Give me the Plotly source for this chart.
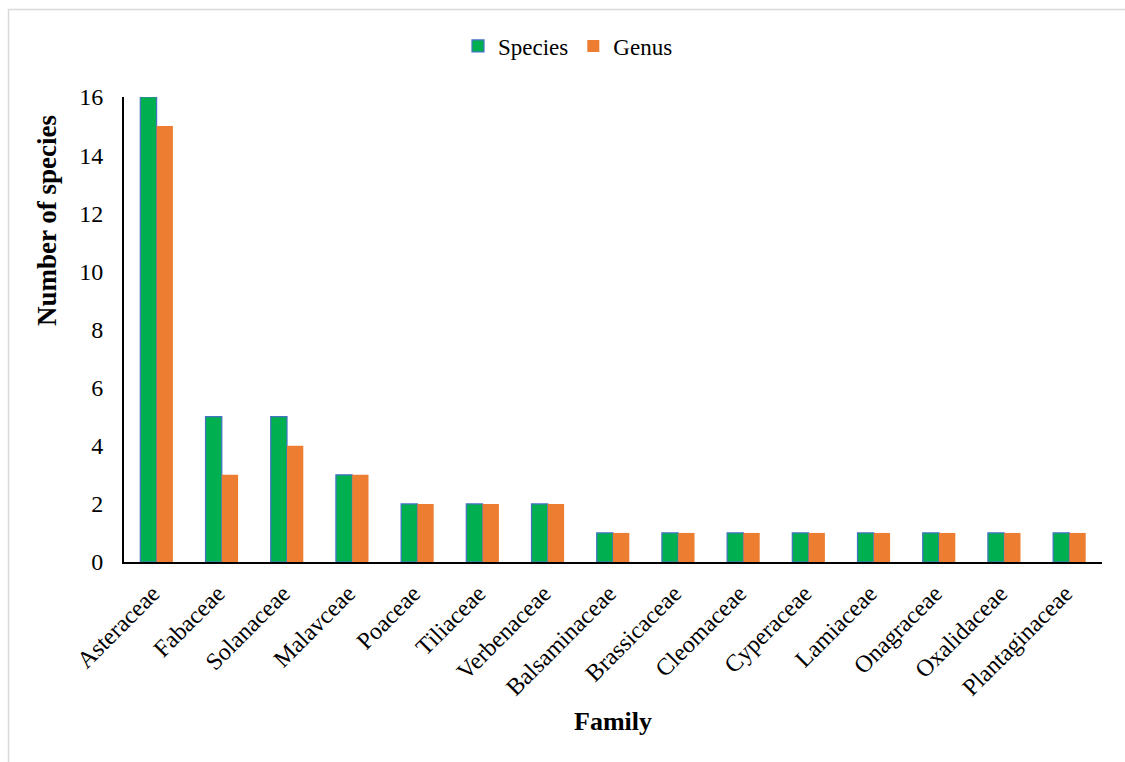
import plotly.graph_objects as go

families = ["Asteraceae", "Fabaceae", "Solanaceae", "Malavceae", "Poaceae", "Tiliaceae",
            "Verbenaceae", "Balsaminaceae", "Brassicaceae", "Cleomaceae", "Cyperaceae",
            "Lamiaceae", "Onagraceae", "Oxalidaceae", "Plantaginaceae"]
species = [16, 5, 5, 3, 2, 2, 2, 1, 1, 1, 1, 1, 1, 1, 1]
genus = [15, 3, 4, 3, 2, 2, 2, 1, 1, 1, 1, 1, 1, 1, 1]

FONT = "Liberation Serif, Times New Roman, serif"

fig = go.Figure()
fig.add_trace(go.Bar(x=families, y=species, name="Species",
                     marker=dict(color="#00B050", line=dict(color="#4472C4", width=1.2))))
fig.add_trace(go.Bar(x=families, y=genus, name="Genus",
                     marker=dict(color="#ED7D31", line=dict(width=0))))

W, H = 1125, 762
L, R, T, B = 124, 23, 97, 200
pw, ph = W - L - R, H - T - B

def px_x(x):
    return (x - L) / pw

def px_y(y):
    return 1 - (y - T) / ph

fig.update_layout(
    width=W, height=H,
    margin=dict(l=L, r=R, t=T, b=B),
    paper_bgcolor="white", plot_bgcolor="white",
    font=dict(family=FONT, size=24, color="black"),
    barmode="group", bargap=0.5, bargroupgap=0,
    showlegend=True,
    legend=dict(orientation="h", x=px_x(568), y=px_y(46), xanchor="center", yanchor="middle",
                font=dict(size=23, family=FONT), itemwidth=30, bgcolor="rgba(0,0,0,0)"),
    xaxis=dict(showline=True, linecolor="black", linewidth=2, ticks="", tickangle=-45,
               tickfont=dict(size=24, family=FONT), showgrid=False,
               ticklabelstandoff=6, ticklabelshift=-4),
    yaxis=dict(range=[0, 16], dtick=2, showline=True, linecolor="black", linewidth=2,
               ticks="", showgrid=False, zeroline=False, tickfont=dict(size=24, family=FONT),
               ticklabelstandoff=14),
    annotations=[
        dict(text="<b>Number of species</b>", xref="paper", yref="paper",
             x=px_x(47), y=px_y(221), textangle=-90, showarrow=False,
             xanchor="center", yanchor="middle", font=dict(size=27, family=FONT)),
        dict(text="<b>Family</b>", xref="paper", yref="paper",
             x=px_x(613), y=px_y(721), showarrow=False,
             xanchor="center", yanchor="middle", font=dict(size=26, family=FONT)),
    ],
    shapes=[
        dict(type="rect", xref="paper", yref="paper",
             x0=px_x(8.5), x1=px_x(1135), y0=px_y(9.5), y1=px_y(780),
             line=dict(color="#D9D9D9", width=1.5), fillcolor="rgba(0,0,0,0)", layer="below"),
    ],
)

fig.write_html("out.html")
